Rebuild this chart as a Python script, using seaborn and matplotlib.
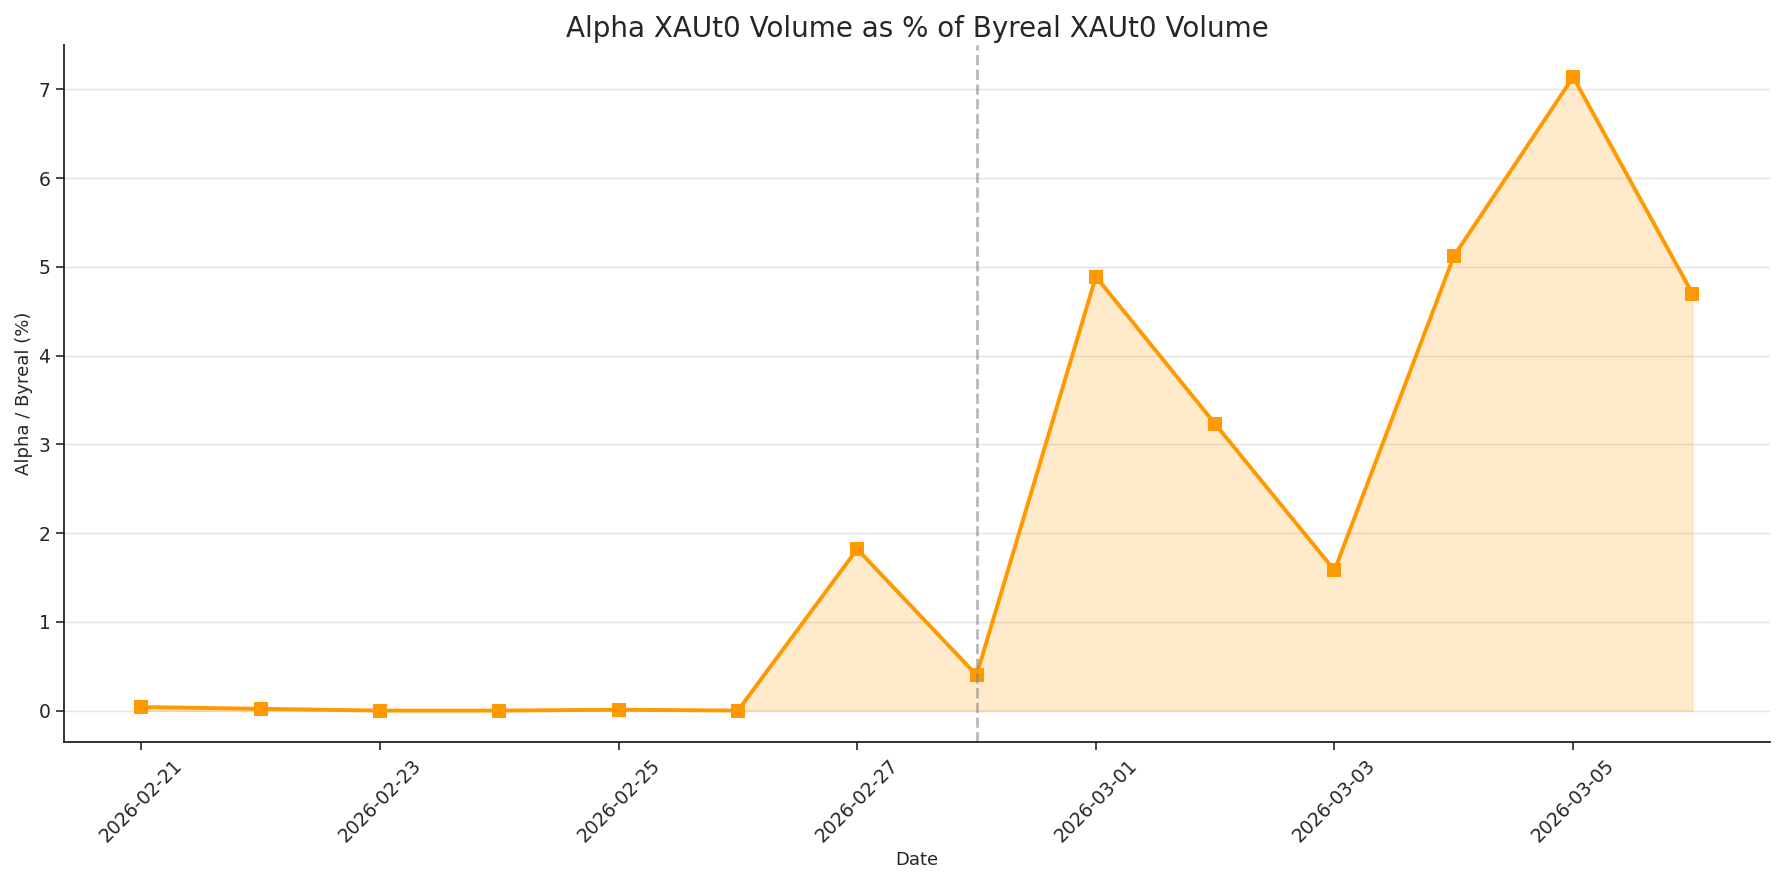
import pandas as pd
import numpy as np
import matplotlib
matplotlib.use("Agg")
import matplotlib.pyplot as plt
import matplotlib.dates as mdates
import seaborn as sns

# data
dates = pd.date_range("2026-02-21", "2026-03-06", freq="D")
ratio_pct = [0.04, 0.02, 0.0, 0.0, 0.01, 0.0, 1.82, 0.40, 4.89, 3.23, 1.58, 5.12, 7.14, 4.70]
marker_date = "2026-02-28"

df = pd.DataFrame({"Date": dates, "ratio": ratio_pct})

sns.set_style("white")
plt.rcParams['font.family'] = ['DejaVu Sans']

orange = "#FF9900"

fig, ax = plt.subplots(figsize=(17.85, 8.84), dpi=100)
sns.lineplot(data=df, x="Date", y="ratio", ax=ax, color=orange, linewidth=2.8,
             marker="s", markersize=10, markeredgewidth=0)
ax.fill_between(df["Date"], df["ratio"], 0, color=orange, alpha=0.2)
ax.axvline(pd.Timestamp(marker_date), color="gray", linestyle="--", alpha=0.55, linewidth=2)

ax.set_title("Alpha XAUt0 Volume as % of Byreal XAUt0 Volume", fontsize=20)
ax.set_xlabel("Date", fontsize=13)
ax.set_ylabel("Alpha / Byreal (%)", fontsize=13)
ax.grid(axis="y", color="#dddddd", alpha=0.8, linewidth=1)
ax.set_xticks(dates[::2])
ax.xaxis.set_major_formatter(mdates.DateFormatter("%Y-%m-%d"))
ax.tick_params(axis="both", labelsize=13.5, length=6, width=1.2, bottom=True, left=True)
plt.setp(ax.get_xticklabels(), rotation=45)
sns.despine(ax=ax)
for s in ["left", "bottom"]:
    ax.spines[s].set_color("#222222")
    ax.spines[s].set_linewidth(1.3)

fig.tight_layout()
fig.savefig("out.png", dpi=100)
